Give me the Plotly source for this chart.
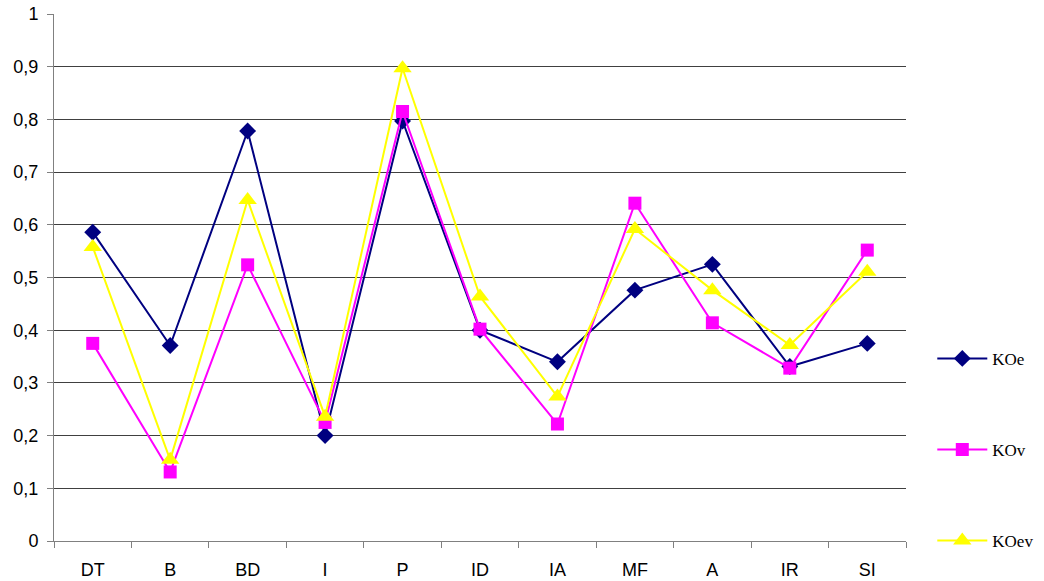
import plotly.graph_objects as go

categories = ["DT", "B", "BD", "I", "P", "ID", "IA", "MF", "A", "IR", "SI"]
koe = [0.586, 0.371, 0.778, 0.200, 0.797, 0.400, 0.340, 0.476, 0.525, 0.331, 0.375]
kov = [0.375, 0.131, 0.524, 0.225, 0.815, 0.402, 0.222, 0.641, 0.414, 0.328, 0.552]
koev = [0.558, 0.154, 0.647, 0.236, 0.897, 0.464, 0.274, 0.592, 0.476, 0.372, 0.511]
y_ticks = [0, 0.1, 0.2, 0.3, 0.4, 0.5, 0.6, 0.7, 0.8, 0.9, 1]
y_labels = ["0", "0,1", "0,2", "0,3", "0,4", "0,5", "0,6", "0,7", "0,8", "0,9", "1"]

fig = go.Figure()
series = [
    ("KOe", koe, "#000080", "diamond", 13),
    ("KOv", kov, "#FF00FF", "square", 13),
    ("KOev", koev, "#FFFF00", "triangle-up", 16),
]
for name, vals, color, sym, size in series:
    fig.add_trace(go.Scatter(
        x=categories, y=vals, name=name, mode="lines+markers",
        line=dict(color=color, width=2),
        marker=dict(symbol=sym, size=size, color=color, line=dict(width=0)),
        legendgroup=name,
    ))

fig.update_layout(
    width=1044, height=581,
    margin=dict(l=54, r=138, t=14, b=40),
    paper_bgcolor="white", plot_bgcolor="white",
    showlegend=True,
    legend=dict(
        x=0.893, xanchor="left", xref="container",
        y=0.173, yanchor="middle",
        font=dict(family="Liberation Serif", size=17, color="black"),
        tracegroupgap=66, itemwidth=50,
        bgcolor="rgba(0,0,0,0)",
    ),
    font=dict(family="Liberation Sans", size=17, color="black"),
)
fig.update_xaxes(
    type="category", tickson="boundaries", ticks="outside", ticklen=6,
    tickcolor="#808080", showgrid=False, automargin=False,
    showline=True, linecolor="#808080", linewidth=1,
    tickfont=dict(family="Liberation Sans", size=18, color="black"),
    ticklabelstandoff=12, ticklabeloverflow="allow",
    range=[-0.5, 10.5],
)
fig.update_yaxes(
    range=[0, 1], tickvals=y_ticks, ticktext=y_labels,
    ticks="outside", ticklen=6, tickcolor="#808080", automargin=False,
    showgrid=True, gridcolor="#404040", gridwidth=1,
    showline=True, linecolor="#808080", linewidth=1,
    zeroline=False,
    ticklabelstandoff=5, ticklabeloverflow="allow",
    tickfont=dict(family="Liberation Sans", size=18, color="black"),
)

fig.write_html(
    "out.html",
    config={"displayModeBar": False},
    post_script="document.body.style.margin='0';document.body.style.overflow='hidden';",
)
